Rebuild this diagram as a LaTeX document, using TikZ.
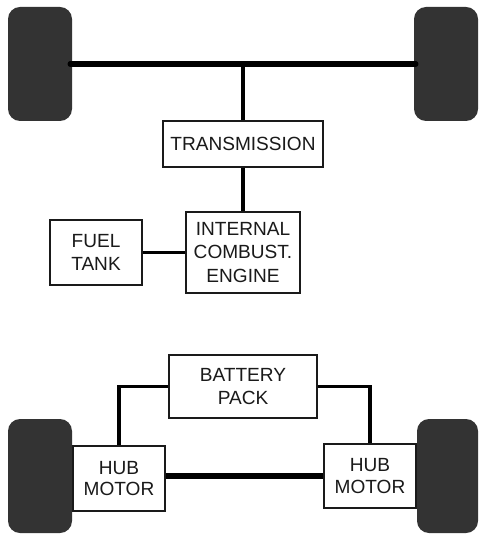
\documentclass[tikz,border=0pt]{standalone}
\usepackage{fontspec}
\setmainfont{Liberation Sans}
\definecolor{tyre}{HTML}{333333}
\definecolor{ink}{HTML}{1A1A1A}
\tikzset{
  tyrebox/.style={fill=tyre,draw=none,rounded corners=9pt,inner sep=0pt,minimum width=#1*0.75pt,minimum height=85.5pt},
  unitbox/.style={draw=ink,fill=white,line width=1.3pt,inner sep=0pt,align=center,text=ink,font=\fontsize{14.3}{17.4}\selectfont},
  hubbox/.style={unitbox,font=\fontsize{14.3}{16.3}\selectfont,minimum width=69pt},
  link/.style={draw=black,line width=#1*0.75pt}
}
\begin{document}
\begin{tikzpicture}[x=0.75pt,y=-0.75pt]
\useasboundingbox (0,0) rectangle (478,534);
\node[tyrebox=64] (wtl) at (40,64) {};
\node[tyrebox=64] (wtr) at (446,64) {};
\node[tyrebox=64] (wbl) at (40,476) {};
\node[tyrebox=61] (wbr) at (447.5,476) {};
\node[unitbox,minimum width=120pt,minimum height=34.5pt] (trans) at (243,144) {TRANSMISSION};
\node[unitbox,minimum width=85.5pt,minimum height=60.5pt] (ice) at (243,252.5) {INTERNAL\\COMBUST.\\ENGINE};
\node[unitbox,minimum width=69pt,minimum height=48.5pt] (fuel) at (96,252.5) {FUEL\\TANK};
\node[unitbox,minimum width=111pt,minimum height=47.5pt] (bat) at (243,386.5) {BATTERY\\PACK};
\node[hubbox,minimum height=48.5pt] (hubl) at (119,478.5) {HUB\\MOTOR};
\node[hubbox,minimum height=48pt] (hubr) at (370,476) {HUB\\MOTOR};
\coordinate (axleL) at ([xshift=-1.5pt]wtl.east);
\coordinate (axleR) at ([xshift=1.5pt]wtr.west);
\coordinate (tee) at (trans.north |- axleL);
\draw[link=5.5,line cap=round] (axleL) -- (axleR);
\draw[link=3.2] (trans.north) -- (tee);
\draw[link=3.2] (trans.south) -- (ice.north);
\draw[link=3.5] (fuel.east) -- (ice.west);
\draw[link=3.5] (bat.west) -| (hubl.north);
\draw[link=3.5] (bat.east) -| (hubr.north);
\draw[link=6] (hubl.east |- hubr.center) -- (hubr.west);
\end{tikzpicture}
\end{document}
